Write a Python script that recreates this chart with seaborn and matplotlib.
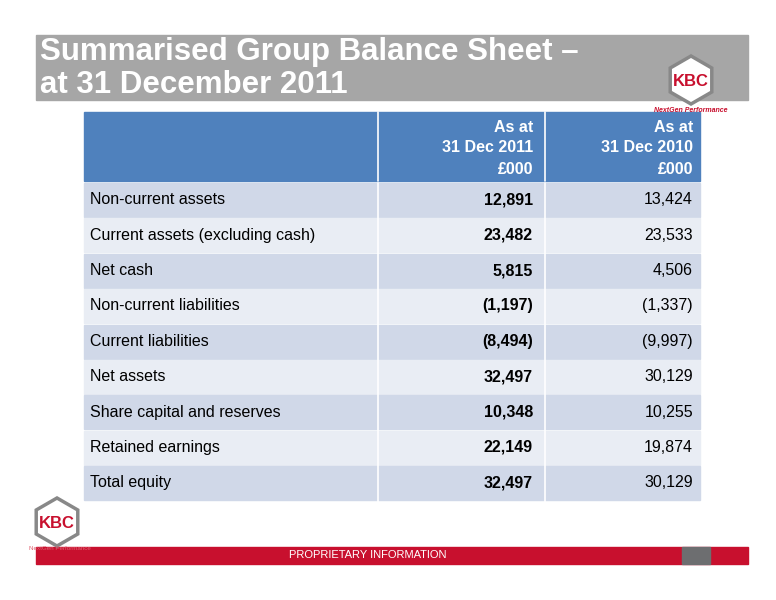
import matplotlib
matplotlib.use("Agg")
import matplotlib.pyplot as plt
from matplotlib.patches import Rectangle, RegularPolygon
import seaborn as sns

sns.set_theme(style="white")
plt.rcParams['font.family'] = ['Liberation Sans', 'DejaVu Sans']
plt.rcParams['text.color'] = 'black'

title_lines = ["Summarised Group Balance Sheet \u2013", "at 31 December 2011"]
col_headers = ["As at\n31 Dec 2011\n£000", "As at\n31 Dec 2010\n£000"]
row_labels = ["Non-current assets", "Current assets (excluding cash)", "Net cash",
              "Non-current liabilities", "Current liabilities", "Net assets",
              "Share capital and reserves", "Retained earnings", "Total equity"]
values_2011 = ["12,891", "23,482", "5,815", "(1,197)", "(8,494)", "32,497",
               "10,348", "22,149", "32,497"]
values_2010 = ["13,424", "23,533", "4,506", "(1,337)", "(9,997)", "30,129",
               "10,255", "19,874", "30,129"]

fig = plt.figure(figsize=(7.76, 6.0), dpi=100)
ax = fig.add_axes([0, 0, 1, 1])
ax.set_xlim(0, 776)
ax.set_ylim(600, 0)
ax.axis("off")

red = "#c8102e"
# title band
ax.add_patch(Rectangle((36, 35), 712, 65, color="#a6a6a6"))
ax.text(40, 52, title_lines[0], color="white", fontsize=22.5, fontweight="bold", va="center")
ax.text(40, 85, title_lines[1], color="white", fontsize=22.5, fontweight="bold", va="center")

def logo(x, y, r, fs, sub_fs, sub=True):
    ax.add_patch(RegularPolygon((x, y), 6, radius=r, orientation=0,
                                facecolor="white", edgecolor="#888888", lw=2.5, zorder=3))
    ax.text(x, y + 1, "KBC", color=red, fontsize=fs, fontweight="bold",
            ha="center", va="center", zorder=4)
    if sub:
        ax.text(x, y + r + 6, "NextGen Performance", color=red, fontsize=sub_fs,
                style="italic", fontweight="bold", ha="center", va="center", zorder=4)

logo(691, 80, 24, 12, 5)

# table
x0, x1, x2, x3 = 84, 378, 545, 700
ax.add_patch(Rectangle((x0, 112), x3 - x0, 69, color="#4f81bd"))
for xe, hdr in zip([x2 - 12, x3 - 7], col_headers):
    ax.text(xe, 148, hdr, color="white", fontsize=11.5, fontweight="bold",
            ha="right", va="center", linespacing=1.5)
for xv in [x1, x2]:
    ax.plot([xv, xv], [112, 181], color="white", lw=1.2)

top, h = 183, 35.4
for i, (lab, v1, v0) in enumerate(zip(row_labels, values_2011, values_2010)):
    y = top + i * h
    fc = "#d0d8e8" if i % 2 == 0 else "#e9edf4"
    ax.add_patch(Rectangle((x0, y), x3 - x0, h - 1.5, color=fc))
    yc = y + h / 2 - 1
    ax.text(x0 + 6, yc, lab, fontsize=11.5, va="center", color="black")
    ax.text(x2 - 12, yc, v1, fontsize=11.5, fontweight="bold", ha="right", va="center", color="black")
    ax.text(x3 - 7, yc, v0, fontsize=11.5, ha="right", va="center", color="black")
for xv in [x1, x2]:
    ax.plot([xv, xv], [top, top + 9 * h], color="white", lw=1.2)

# footer
ax.add_patch(Rectangle((36, 547), 712, 17, color=red))
ax.add_patch(Rectangle((682, 547), 28, 17, color="#6d6e70"))
ax.text(368, 555.5, "PROPRIETARY INFORMATION", color="white", fontsize=8,
        ha="center", va="center")
logo(57, 522, 24, 12, 4.5, sub=False)
ax.text(60, 549, "NextGen Performance", color="#e06070", fontsize=4.5,
        ha="center", va="center", zorder=4)

fig.savefig("out.png", dpi=100)
